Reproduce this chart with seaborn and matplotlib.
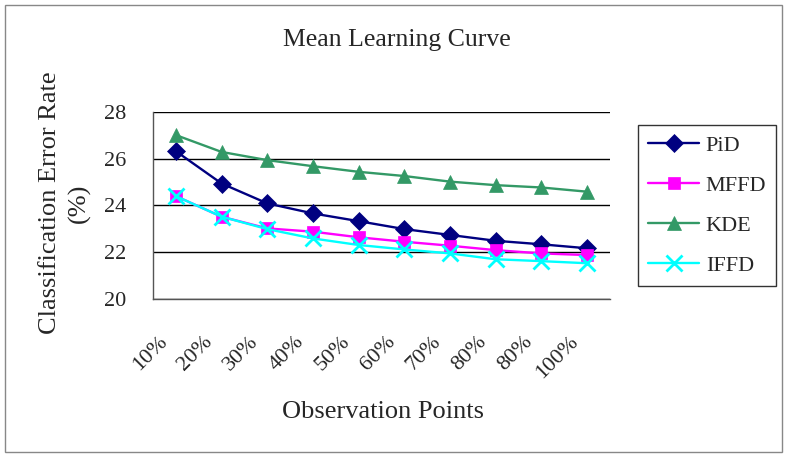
import numpy as np
import matplotlib
matplotlib.use("Agg")
import matplotlib.pyplot as plt
import pandas as pd
import seaborn as sns
from matplotlib.patches import Rectangle

tick_labels = ["10%", "20%", "30%", "40%", "50%", "60%", "70%", "80%", "80%", "100%"]
methods = ["PiD", "MFFD", "KDE", "IFFD"]
pid = [26.32, 24.94, 24.09, 23.66, 23.33, 22.99, 22.74, 22.49, 22.34, 22.17]
mffd = [24.40, 23.52, 23.02, 22.88, 22.64, 22.45, 22.28, 22.09, 21.95, 21.88]
kde = [27.01, 26.29, 25.94, 25.68, 25.44, 25.26, 25.02, 24.87, 24.77, 24.59]
iffd = [24.40, 23.52, 22.99, 22.59, 22.31, 22.12, 21.95, 21.70, 21.62, 21.53]

rows = []
for name, vals in zip(methods, [pid, mffd, kde, iffd]):
    for i, v in enumerate(vals):
        rows.append({"pos": i, "err": v, "method": name})
df = pd.DataFrame(rows)

sns.set_style("white")
plt.rcParams['font.family'] = ['Liberation Serif', 'DejaVu Serif']

colors = {"PiD": "#000080", "MFFD": "#FF00FF", "KDE": "#339966", "IFFD": "#00FFFF"}
markers = {"PiD": "D", "MFFD": "s", "KDE": "^", "IFFD": "x"}
msizes = {"PiD": 9, "MFFD": 9, "KDE": 10, "IFFD": 11}

fig = plt.figure(figsize=(7.85, 4.57), dpi=100)
ax = fig.add_axes([0.195, 0.3457, 0.582, 0.4093])

for name in methods:
    sub = df[df.method == name]
    sns.lineplot(data=sub, x="pos", y="err", ax=ax, color=colors[name], marker=markers[name],
                 markersize=msizes[name], markeredgewidth=2 if name == "IFFD" else 0.5,
                 markeredgecolor=colors[name], linewidth=1.7, label=name, legend=False)

ax.set_xlim(-0.5, 9.5)
ax.set_ylim(20, 28)
ax.set_yticks([20, 22, 24, 26, 28])
ax.yaxis.grid(True, color="black", linewidth=1)
ax.set_axisbelow(True)
ax.set_xticks(np.arange(-0.5, 10, 1))
ax.set_xticklabels([])
# labels sit a little left of the category centre, like the original
ax.set_xticks(np.arange(10) - 0.4, minor=True)
ax.set_xticklabels(tick_labels, minor=True, rotation=45, ha='right', va='top',
                   rotation_mode='anchor', fontsize=16)
ax.tick_params(axis='x', which='major', direction='out', length=6, width=1, color='black')
ax.tick_params(axis='x', which='minor', length=0, pad=24)
ax.tick_params(axis='y', direction='inout', length=10, width=1, labelsize=16, color='black', pad=14)
for s in ["top", "right"]:
    ax.spines[s].set_visible(False)
for s in ["left", "bottom"]:
    ax.spines[s].set_color("#555555")
    ax.spines[s].set_linewidth(1)
ax.set_xlabel("")
ax.set_ylabel("")

fig.text(0.506, 0.912, "Mean Learning Curve", ha='center', va='center', fontsize=18.5)
fig.text(0.488, 0.098, "Observation Points", ha='center', va='center', fontsize=19)
fig.text(0.083, 0.556, "Classification Error Rate\n(%)", ha='center', va='center',
         rotation=90, fontsize=19, linespacing=1.4)

handles, labels = ax.get_legend_handles_labels()
leg = fig.legend(handles, labels, loc='upper left', bbox_to_anchor=(0.8127, 0.7265),
                 fontsize=16, frameon=True, fancybox=False, edgecolor='black',
                 handlelength=2.3, labelspacing=0.88, borderpad=0.45, handletextpad=0.3,
                 borderaxespad=0)
leg.get_frame().set_linewidth(1)

fig.patches.append(Rectangle((0.006, 0.01), 0.99, 0.98, transform=fig.transFigure,
                             fill=False, edgecolor="#888888", linewidth=1))

fig.savefig("out.png", dpi=100, facecolor='white')
